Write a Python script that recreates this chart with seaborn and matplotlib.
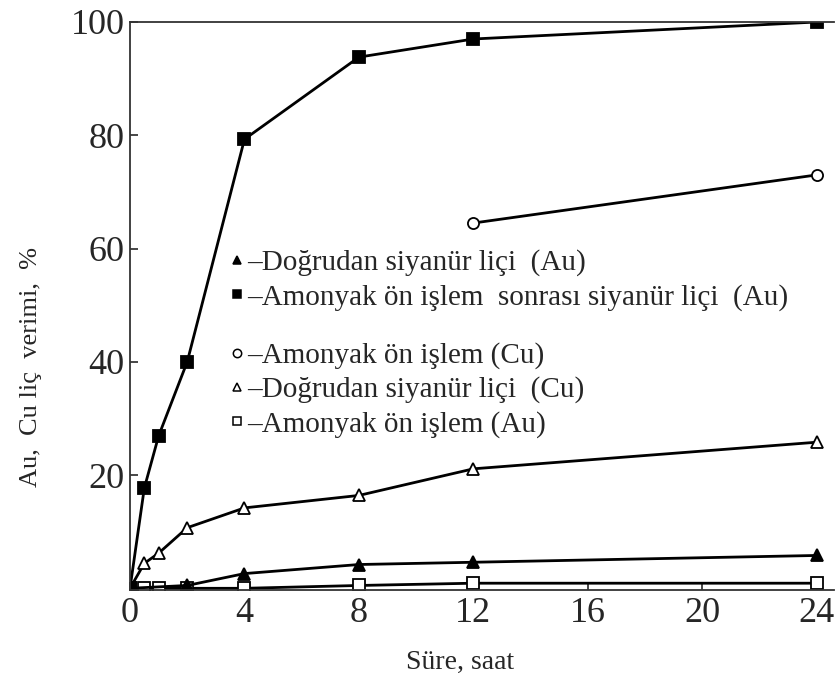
import numpy as np
import pandas as pd
import matplotlib
matplotlib.use("Agg")
import matplotlib.pyplot as plt
from matplotlib.lines import Line2D
import seaborn as sns

# ---- data ----
t_sq_filled = [0, 0.5, 1, 2, 4, 8, 12, 24]
v_sq_filled = [0, 17.7, 26.9, 40.0, 79.3, 93.8, 97.0, 100.0]

t_tri_open = [0, 0.5, 1, 2, 4, 8, 12, 24]
v_tri_open = [0, 4.4, 6.2, 10.7, 14.2, 16.4, 21.1, 25.8]

t_tri_filled = [0, 2, 4, 8, 12, 24]
v_tri_filled = [0, 0.5, 2.6, 4.2, 4.6, 5.8]

t_sq_open = [0, 0.5, 1, 2, 4, 8, 12, 24]
v_sq_open = [0, 0, 0, 0, 0, 0.5, 0.9, 0.9]

t_circ_open = [12, 24]
v_circ_open = [64.5, 73.0]

x_ticks = [0, 4, 8, 12, 16, 20, 24]
y_ticks = [20, 40, 60, 80, 100]

labels = {
    "tri_filled": "\u2013Doğrudan siyanür liçi  (Au)",
    "sq_filled": "\u2013Amonyak ön işlem  sonrası siyanür liçi  (Au)",
    "circ_open": "\u2013Amonyak ön işlem (Cu)",
    "tri_open": "\u2013Doğrudan siyanür liçi  (Cu)",
    "sq_open": "\u2013Amonyak ön işlem (Au)",
}

sns.set_style("ticks")
plt.rcParams["font.family"] = ["Liberation Serif", "DejaVu Serif"]

fig = plt.figure(figsize=(8.37, 6.8), dpi=100)
ax = fig.add_axes([130 / 837, 90 / 680, (834 - 130) / 837, (590 - 22) / 680])

lw = 2.0
ms = 8
series = [
    (t_sq_open, v_sq_open, "s", "white"),
    (t_tri_filled, v_tri_filled, "^", "black"),
    (t_tri_open, v_tri_open, "^", "white"),
    (t_sq_filled, v_sq_filled, "s", "black"),
    (t_circ_open, v_circ_open, "o", "white"),
]
for tx, vy, mk, fc in series:
    sns.lineplot(x=tx, y=vy, ax=ax, color="black", linewidth=lw, marker=mk,
                 markersize=ms, markerfacecolor=fc, markeredgecolor="black",
                 markeredgewidth=1.3, estimator=None, sort=False)

ax.set_xlim(0, 24.6)
ax.set_ylim(-0.3, 100)
ax.set_xticks(x_ticks)
ax.set_yticks(y_ticks)
ax.tick_params(direction="in", labelsize=26, length=6, width=1.2)
ax.tick_params(axis="y", pad=4)
ax.tick_params(axis="x", pad=5)
for s in ["left", "bottom", "top"]:
    ax.spines[s].set_linewidth(1.3)
    ax.spines[s].set_color("#333333")
ax.spines["right"].set_visible(False)

ax.set_xlabel("Süre, saat", fontsize=20)
ax.xaxis.set_label_coords(0.469, -0.106)
ax.set_ylabel("Au,  Cu liç  verimi,  %", fontsize=19)
ax.yaxis.set_label_coords(-0.125, 0.393)

def h(mk, fc):
    return Line2D([], [], linestyle="none", marker=mk, markersize=6,
                  markerfacecolor=fc, markeredgecolor="black", markeredgewidth=1.1)

leg_kw = dict(frameon=False, fontsize=21, handlelength=0.6, handletextpad=0.05,
              labelspacing=0.25, borderaxespad=0, borderpad=0, loc="center left")

leg1 = ax.legend([h("^", "black"), h("s", "black")],
                 [labels["tri_filled"], labels["sq_filled"]],
                 bbox_to_anchor=(0.14, (590 - 280) / 568), **leg_kw)
ax.add_artist(leg1)
ax.legend([h("o", "white"), h("^", "white"), h("s", "white")],
          [labels["circ_open"], labels["tri_open"], labels["sq_open"]],
          bbox_to_anchor=(0.14, (590 - 390) / 568), **leg_kw)

fig.savefig("out.png", dpi=100, facecolor="white")
